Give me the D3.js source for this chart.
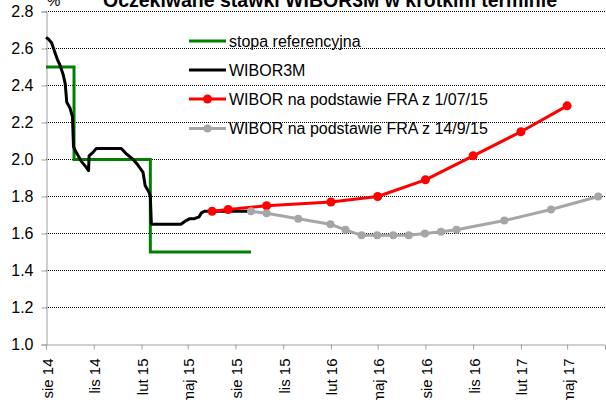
<!DOCTYPE html>
<html>
<head>
<meta charset="utf-8">
<script src="https://cdn.jsdelivr.net/npm/d3@7"></script>
<style>
  body { margin: 0; background: #fff; }
  svg { display: block; font-family: "Liberation Sans", Arial, sans-serif; }
</style>
</head>
<body>
<div id="chart"></div>
<script>
// --- data ---
var title = "Oczekiwane stawki WIBOR3M w krótkim terminie";
var seriesNames = ["stopa referencyjna", "WIBOR3M",
  "WIBOR na podstawie FRA z 1/07/15", "WIBOR na podstawie FRA z 14/9/15"];

var tickDates = ["2014-08-15", "2014-11-15", "2015-02-15", "2015-05-15", "2015-08-15", "2015-11-15",
  "2016-02-15", "2016-05-15", "2016-08-15", "2016-11-15", "2017-02-15", "2017-05-15"];
var tickLabels = ["sie 14", "lis 14", "lut 15", "maj 15", "sie 15", "lis 15",
  "lut 16", "maj 16", "sie 16", "lis 16", "lut 17", "maj 17"];
var yTicks = [1.0, 1.2, 1.4, 1.6, 1.8, 2.0, 2.2, 2.4, 2.6, 2.8];

var refDates = ["2014-08-15", "2014-10-08", "2015-03-04", "2015-09-14"];
var refValues = [2.5, 2.0, 1.5, 1.5];

var wiborDates = ["2014-08-15", "2014-08-20", "2014-08-26", "2014-09-01", "2014-09-06", "2014-09-11",
  "2014-09-17", "2014-09-21", "2014-09-24", "2014-09-30", "2014-10-05", "2014-10-07", "2014-10-10",
  "2014-10-16", "2014-10-22", "2014-10-31", "2014-11-05", "2014-11-06", "2014-11-14", "2014-11-20",
  "2015-01-07", "2015-01-17", "2015-01-30", "2015-02-08", "2015-02-18", "2015-02-22", "2015-03-02",
  "2015-03-04", "2015-03-06", "2015-05-02", "2015-05-12", "2015-05-19", "2015-05-28", "2015-06-06",
  "2015-06-10", "2015-06-16", "2015-06-22", "2015-07-01", "2015-08-01", "2015-09-14"];
var wiborValues = [2.66, 2.65, 2.63, 2.58, 2.54, 2.51,
  2.46, 2.41, 2.31, 2.28, 2.23, 2.07, 2.05,
  2.02, 1.99, 1.96, 1.94, 2.02, 2.04, 2.06,
  2.06, 2.03, 2.00, 1.97, 1.93, 1.86, 1.82,
  1.80, 1.65, 1.65, 1.67, 1.68, 1.68, 1.69,
  1.71, 1.72, 1.72, 1.72, 1.72, 1.72];

var fraJulDates = ["2015-07-01", "2015-08-01", "2015-10-14", "2016-02-15", "2016-05-15",
  "2016-08-15", "2016-11-15", "2017-02-15", "2017-05-15"];
var fraJulValues = [1.72, 1.73, 1.75, 1.77, 1.80, 1.89, 2.02, 2.15, 2.29];

var fraSepDates = ["2015-09-14", "2015-10-14", "2015-12-14", "2016-02-14", "2016-03-14", "2016-04-14",
  "2016-05-14", "2016-06-14", "2016-07-14", "2016-08-14", "2016-09-14", "2016-10-14",
  "2017-01-14", "2017-04-14", "2017-07-14"];
var fraSepValues = [1.72, 1.71, 1.68, 1.65, 1.62, 1.59, 1.59, 1.59, 1.59, 1.60, 1.61, 1.62,
  1.67, 1.73, 1.80];

var colors = ["#008000", "#000000", "#ff0000", "#a6a6a6"];

// --- drawing ---
var parse = d3.timeParse("%Y-%m-%d");
function zip(dates, values) {
  return dates.map(function (d, i) { return {date: parse(d), value: values[i]}; });
}

var width = 606, height = 400;
var svg = d3.select("#chart").append("svg")
    .attr("width", width)
    .attr("height", height);

var x = d3.scaleTime()
    .domain([parse("2014-08-15"), parse("2017-07-27")])
    .range([46, 605]);
var y = d3.scaleLinear()
    .domain([1.0, 2.8])
    .range([344.5, 11.5]);

// gridlines
svg.append("g").selectAll("line")
    .data(yTicks.slice(1))
  .enter().append("line")
    .attr("x1", 46).attr("x2", 605)
    .attr("y1", function (d) { return y(d); })
    .attr("y2", function (d) { return y(d); })
    .style("stroke", "#000")
    .style("stroke-width", 1)
    .style("stroke-dasharray", "1,1");

// axes
var yAxis = svg.append("g")
    .attr("transform", "translate(46.5,0)")
    .call(d3.axisLeft(y).tickValues(yTicks).tickFormat(d3.format(".1f")).tickSize(5).tickPadding(8));
yAxis.selectAll("text").style("font-size", "16px").style("fill", "#000");

var xAxis = svg.append("g")
    .attr("transform", "translate(0,344.5)")
    .call(d3.axisBottom(x).tickValues(tickDates.map(parse))
      .tickFormat(function (d, i) { return tickLabels[i]; }).tickSize(5));
xAxis.selectAll("text")
    .attr("transform", "rotate(-90)")
    .attr("x", -14)
    .attr("y", 0)
    .attr("dy", ".4em")
    .style("text-anchor", "end")
    .style("font-size", "15px")
    .style("fill", "#000");

svg.selectAll(".domain, .tick line").style("stroke", "#a0a0a0");

// series
var line = d3.line()
    .x(function (d) { return x(d.date); })
    .y(function (d) { return y(d.value); });

var ref = zip(refDates, refValues);
svg.append("path")
    .datum(ref)
    .attr("d", line.curve(d3.curveStepAfter))
    .style("fill", "none")
    .style("stroke", colors[0])
    .style("stroke-width", 3);
line.curve(d3.curveLinear);

svg.append("path")
    .datum(zip(wiborDates, wiborValues))
    .attr("d", line)
    .style("fill", "none")
    .style("stroke", colors[1])
    .style("stroke-width", 3)
    .style("stroke-linejoin", "round");

var markerSeries = [
  {data: zip(fraJulDates, fraJulValues), color: colors[2], r: 4.5},
  {data: zip(fraSepDates, fraSepValues), color: colors[3], r: 4}
];
markerSeries.forEach(function (s) {
  svg.append("path")
      .datum(s.data)
      .attr("d", line)
      .style("fill", "none")
      .style("stroke", s.color)
      .style("stroke-width", 3)
      .style("stroke-linejoin", "round");
  svg.append("g").selectAll("circle")
      .data(s.data)
    .enter().append("circle")
      .attr("cx", function (d) { return x(d.date); })
      .attr("cy", function (d) { return y(d.value); })
      .attr("r", s.r)
      .style("fill", s.color);
});

// legend
var legend = svg.selectAll(".legend")
    .data(seriesNames)
  .enter().append("g")
    .attr("class", "legend")
    .attr("transform", function (d, i) { return "translate(189," + [41, 70, 99, 128.5][i] + ")"; });

legend.append("line")
    .attr("x1", 0).attr("x2", 37)
    .style("stroke", function (d, i) { return colors[i]; })
    .style("stroke-width", 3);

legend.filter(function (d, i) { return i >= 2; }).append("circle")
    .attr("cx", 18.5)
    .attr("r", function (d, i) { return i === 0 ? 4.5 : 4; })
    .style("fill", function (d, i) { return colors[i + 2]; });

legend.append("text")
    .attr("x", 40)
    .attr("dy", ".35em")
    .style("font-size", "16px")
    .text(function (d) { return d; });

// title and unit, cut by the top edge as in the reference
svg.append("text")
    .attr("x", 330)
    .attr("y", 7)
    .style("text-anchor", "middle")
    .style("font-weight", "bold")
    .style("font-size", "19.5px")
    .text(title);

svg.append("text")
    .attr("x", 47)
    .attr("y", 6)
    .style("font-size", "15px")
    .text("%");
</script>
</body>
</html>
